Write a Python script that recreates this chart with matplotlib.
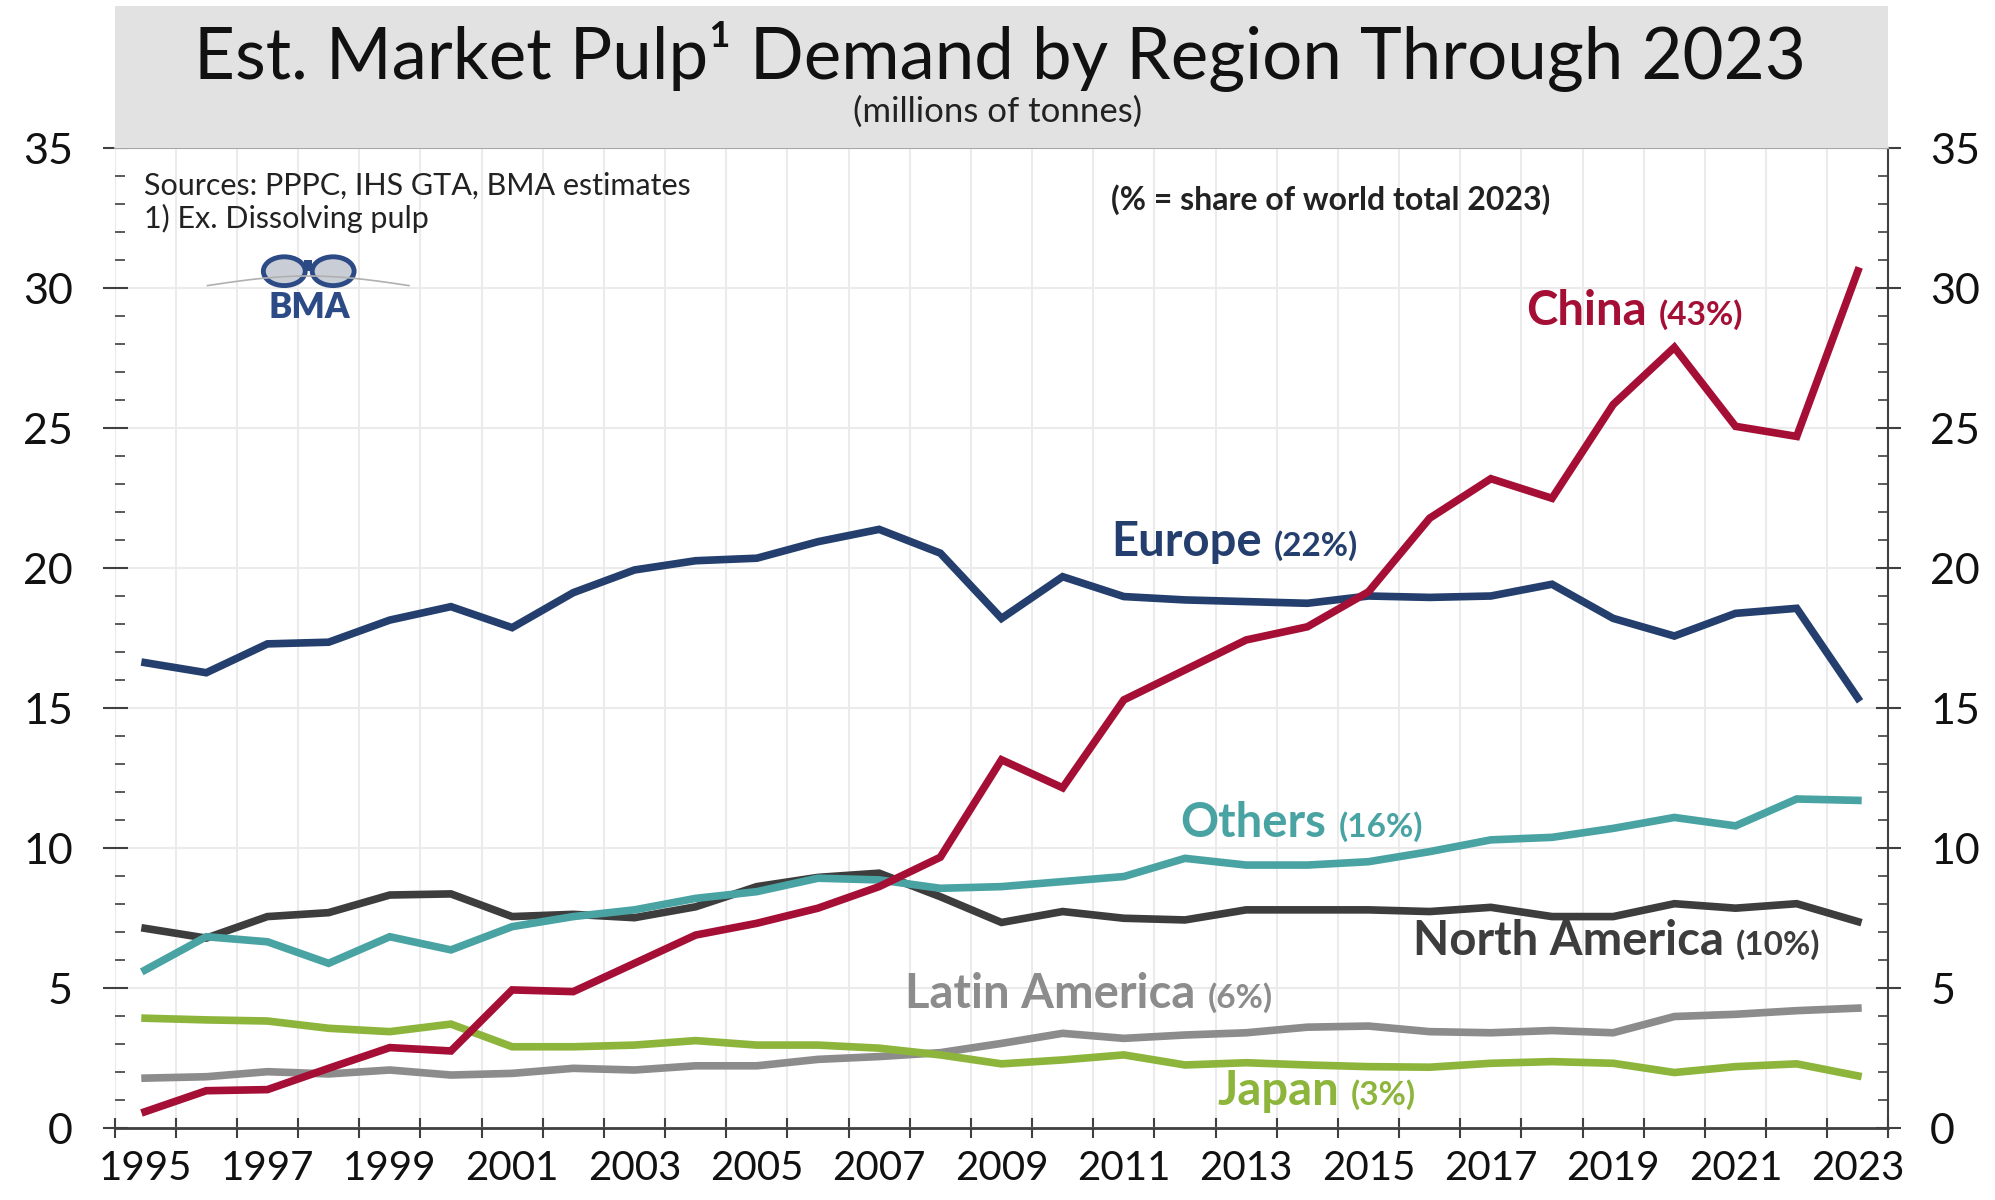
import matplotlib.pyplot as plt
import numpy as np
from matplotlib.patches import Rectangle, Ellipse
from matplotlib.transforms import offset_copy
from matplotlib.ticker import MultipleLocator

plt.rcParams['font.family'] = ['Lato', 'DejaVu Sans']

# data (millions of tonnes)
years = list(range(1995, 2024))
china = [0.59, 1.34, 1.38, 2.14, 2.88, 2.76, 4.94, 4.88, 5.89, 6.90, 7.32, 7.86, 8.63, 9.68, 13.16,
         12.16, 15.30, 16.37, 17.44, 17.91, 19.16, 21.79, 23.20, 22.50, 25.85, 27.89, 25.07, 24.71, 30.62]
europe = [16.63, 16.27, 17.30, 17.36, 18.15, 18.63, 17.88, 19.13, 19.94, 20.27, 20.36, 20.95, 21.39, 20.54, 18.21,
          19.70, 18.99, 18.87, 18.81, 18.75, 19.01, 18.96, 19.01, 19.43, 18.21, 17.58, 18.39, 18.57, 15.36]
others = [5.65, 6.84, 6.66, 5.89, 6.84, 6.37, 7.20, 7.56, 7.80, 8.21, 8.45, 8.93, 8.87, 8.57, 8.63,
          8.81, 8.99, 9.64, 9.40, 9.40, 9.52, 9.88, 10.30, 10.39, 10.71, 11.10, 10.80, 11.76, 11.71]
north_america = [7.14, 6.79, 7.56, 7.70, 8.33, 8.37, 7.56, 7.64, 7.52, 7.91, 8.63, 8.96, 9.11, 8.27, 7.35,
                 7.74, 7.50, 7.44, 7.80, 7.80, 7.80, 7.74, 7.89, 7.56, 7.56, 8.02, 7.86, 8.02, 7.38]
latin_america = [1.79, 1.84, 2.02, 1.94, 2.08, 1.90, 1.96, 2.14, 2.08, 2.23, 2.23, 2.46, 2.56, 2.70, 3.03,
                 3.39, 3.21, 3.33, 3.41, 3.61, 3.65, 3.45, 3.41, 3.49, 3.41, 3.99, 4.07, 4.20, 4.29]
japan = [3.93, 3.87, 3.83, 3.57, 3.45, 3.72, 2.91, 2.91, 2.97, 3.13, 2.97, 2.97, 2.86, 2.62, 2.30,
         2.44, 2.62, 2.26, 2.34, 2.26, 2.20, 2.18, 2.32, 2.38, 2.32, 1.99, 2.20, 2.30, 1.87]
shares = {'China': '(43%)', 'Europe': '(22%)', 'Others': '(16%)',
          'North America': '(10%)', 'Latin America': '(6%)', 'Japan': '(3%)'}

c_china = '#a50f36'
c_europe = '#243f6e'
c_others = '#4aa3a3'
c_na = '#3d3d3d'
c_la = '#8c8c8c'
c_japan = '#8db53c'

fig = plt.figure(figsize=(19.95, 12), dpi=100)
ax = fig.add_axes([0.0574, 0.0598, 0.8892, 0.8166])

# grey title band
fig.patches.append(Rectangle((0.0574, 0.8764), 0.8892, 0.119, transform=fig.transFigure,
                             facecolor='#e2e2e2', edgecolor='none', zorder=0))
fig.text(0.501, 0.934, 'Est. Market Pulp\u00b9 Demand by Region Through 2023', ha='center',
         va='baseline', fontsize=51, color='#111111')
fig.text(0.500, 0.907, '(millions of tonnes)', ha='center', va='center', fontsize=25, color='#222222')

x = np.arange(len(years))
series = [(latin_america, c_la), (japan, c_japan), (north_america, c_na),
          (others, c_others), (europe, c_europe), (china, c_china)]
for vals, col in series:
    ax.plot(x, vals, color=col, lw=5.5, solid_joinstyle='miter', zorder=3)

ax.set_xlim(-0.5, len(years) - 0.5)
ax.set_ylim(0, 35)

# category boundaries as ticks / grid, year labels in between
ax.set_xticks(np.arange(-0.5, len(years), 1.0))
ax.set_xticklabels([])
ax.set_xticks(x[::2], [str(y) for y in years[::2]], minor=True)
ax.tick_params(axis='x', which='major', direction='inout', length=14, width=1.5, color='#404040')
ax.tick_params(axis='x', which='minor', length=0, pad=16, labelsize=29, labelcolor='#111111')

ax.set_yticks(np.arange(0, 36, 5))
ax.yaxis.set_minor_locator(MultipleLocator(1))
ax.tick_params(axis='y', which='both', left=True, right=True, labelleft=True, labelright=True)
ax.tick_params(axis='y', which='major', direction='inout', length=18, width=1.5, color='#404040',
               pad=21, labelsize=31, labelcolor='#111111')
ax.tick_params(axis='y', which='minor', direction='in', length=7, width=1.2, color='#404040')

ax.grid(True, which='major', color='#ebebeb', lw=1.5, zorder=0)
ax.set_axisbelow(True)
ax.spines['left'].set_visible(False)
ax.spines['right'].set_color('#404040')
ax.spines['right'].set_linewidth(1.5)
ax.spines['bottom'].set_color('#404040')
ax.spines['bottom'].set_linewidth(2)
ax.spines['top'].set_color('#a6a6a6')
ax.spines['top'].set_linewidth(1.5)

# notes
fig.text(0.0722, 0.845, 'Sources: PPPC, IHS GTA, BMA estimates', ha='left', va='center',
         fontsize=22, color='#222222')
fig.text(0.0722, 0.818, '1) Ex. Dissolving pulp', ha='left', va='center', fontsize=22, color='#222222')
fig.text(0.557, 0.8333, '(% = share of world total 2023)', ha='left', va='center', fontsize=23,
         fontweight='bold', color='#222222')

# BMA logo
t = np.linspace(0, 1, 50)
fig.add_artist(plt.Line2D(0.104 + 0.101 * t, 0.762 + 0.008 * np.sin(np.pi * t), transform=fig.transFigure,
                          color='#b0b0b0', lw=1.2))
for cx in (0.1425, 0.1670):
    fig.patches.append(Ellipse((cx, 0.774), 0.021, 0.024, transform=fig.transFigure,
                               facecolor='#c9ced6', edgecolor='#2c4a85', lw=3.5))
fig.patches.append(Rectangle((0.1525, 0.7745), 0.004, 0.009, transform=fig.transFigure,
                             facecolor='#2c4a85', edgecolor='none'))
fig.text(0.1549, 0.744, 'BMA', ha='center', va='center', fontsize=25, fontweight='heavy', color='#2c4a85')

# series labels: name + share
labels = [('China', 22.58, 28.68, c_china), ('Europe', 15.80, 20.44, c_europe),
          ('Others', 16.93, 10.40, c_others), ('North America', 20.72, 6.19, c_na),
          ('Latin America', 12.43, 4.30, c_la), ('Japan', 17.53, 0.83, c_japan)]
renderer = fig.canvas.get_renderer()
for name, lx, ly, col in labels:
    tt = ax.text(lx, ly, name, ha='left', va='baseline', fontsize=34, fontweight='bold', color=col, zorder=5)
    w = tt.get_window_extent(renderer=renderer).width
    ax.text(lx, ly, shares[name], ha='left', va='baseline', fontsize=24, fontweight='bold', color=col,
            transform=offset_copy(ax.transData, fig=fig, x=w + 12, y=0, units='dots'), zorder=5)

fig.savefig('out.png', dpi=100)
